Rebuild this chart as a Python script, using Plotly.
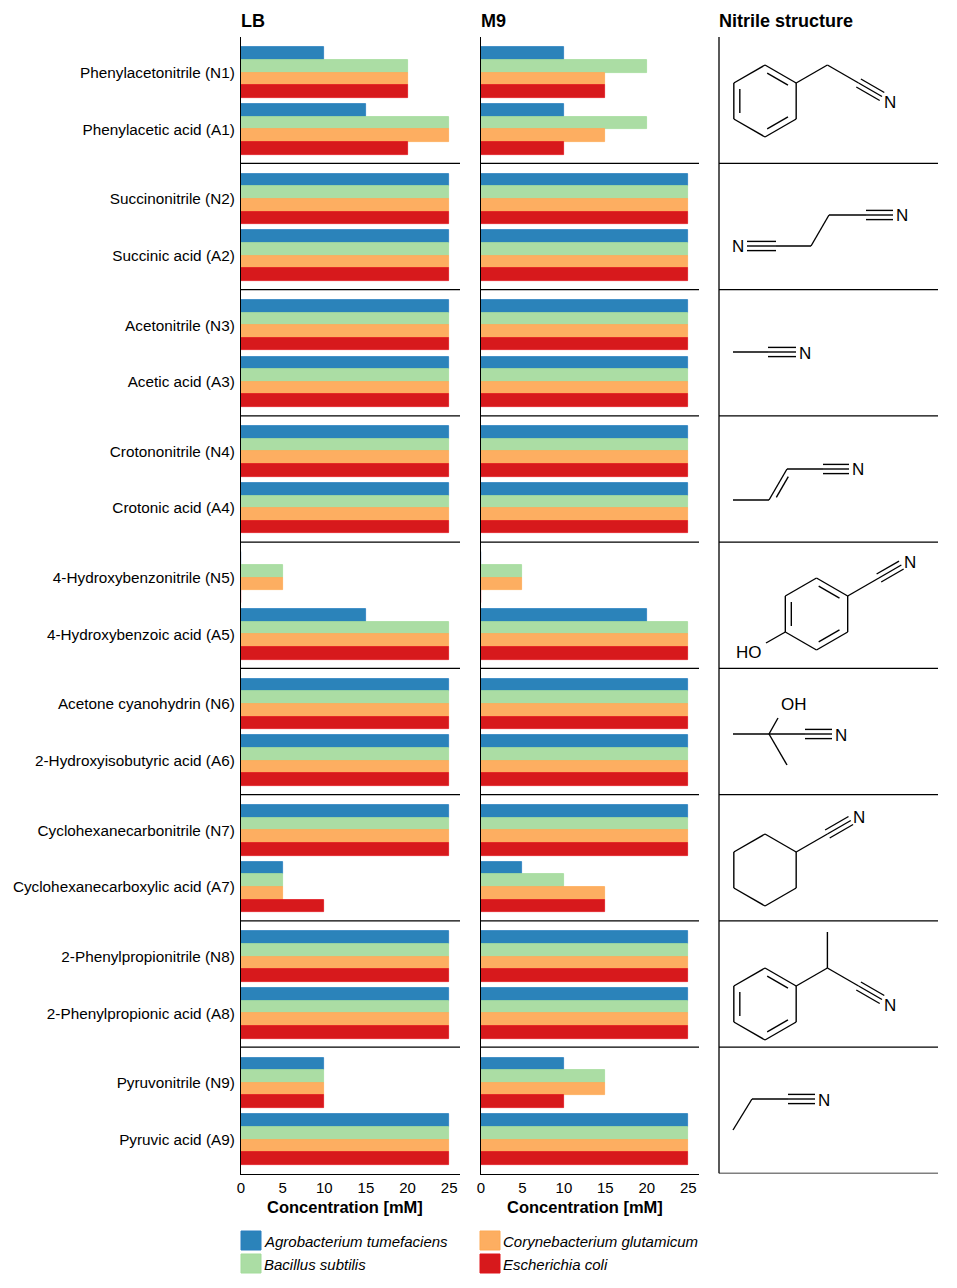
import math
import plotly.graph_objects as go

# -- datos -------------------------------------------------------------------
compuestos = [
    "Phenylacetonitrile (N1)", "Phenylacetic acid (A1)",
    "Succinonitrile (N2)", "Succinic acid (A2)",
    "Acetonitrile (N3)", "Acetic acid (A3)",
    "Crotononitrile (N4)", "Crotonic acid (A4)",
    "4-Hydroxybenzonitrile (N5)", "4-Hydroxybenzoic acid (A5)",
    "Acetone cyanohydrin (N6)", "2-Hydroxyisobutyric acid (A6)",
    "Cyclohexanecarbonitrile (N7)", "Cyclohexanecarboxylic acid (A7)",
    "2-Phenylpropionitrile (N8)", "2-Phenylpropionic acid (A8)",
    "Pyruvonitrile (N9)", "Pyruvic acid (A9)",
]
especies = ["Agrobacterium tumefaciens", "Bacillus subtilis",
            "Corynebacterium glutamicum", "Escherichia coli"]

# concentracion [mM] por especie, medio LB
lb_agro = [10, 15, 25, 25, 25, 25, 25, 25, 0, 15, 25, 25, 25, 5, 25, 25, 10, 25]
lb_bac = [20, 25, 25, 25, 25, 25, 25, 25, 5, 25, 25, 25, 25, 5, 25, 25, 10, 25]
lb_cory = [20, 25, 25, 25, 25, 25, 25, 25, 5, 25, 25, 25, 25, 5, 25, 25, 10, 25]
lb_ecoli = [20, 20, 25, 25, 25, 25, 25, 25, 0, 25, 25, 25, 25, 10, 25, 25, 10, 25]

# concentracion [mM] por especie, medio M9
m9_agro = [10, 10, 25, 25, 25, 25, 25, 25, 0, 20, 25, 25, 25, 5, 25, 25, 10, 25]
m9_bac = [20, 20, 25, 25, 25, 25, 25, 25, 5, 25, 25, 25, 25, 10, 25, 25, 15, 25]
m9_cory = [15, 15, 25, 25, 25, 25, 25, 25, 5, 25, 25, 25, 25, 15, 25, 25, 15, 25]
m9_ecoli = [15, 10, 25, 25, 25, 25, 25, 25, 0, 25, 25, 25, 25, 15, 25, 25, 10, 25]

x_ticks = [0, 5, 10, 15, 20, 25]

colores = ["#2b83ba", "#abdda4", "#fdae61", "#d7191c"]
bordes = ["#2a7fc0", "#a3dc9b", "#fda955", "#e0141a"]

# -- geometria general (pixeles de la pagina) ---------------------------------
OFF = 8  # margen del body del html
W, H = 957 - 2 * OFF, 1288 - 2 * OFF
FONT = "Arial, Liberation Sans, sans-serif"
Y_TOP, Y_BOT = 37, 1173.5


def px(x, y):
    """pixel de pagina -> paper"""
    return (x - OFF) / W, 1 - (y - OFF) / H


# posicion de cada compuesto en el eje y (seccion i: nitrilo y acido)
pos = []
for i in range(len(compuestos) // 2):
    pos += [i + 0.282, i + 0.731]

fig = go.Figure()

paneles = [
    ("x", "y", [lb_agro, lb_bac, lb_cory, lb_ecoli]),
    ("x2", "y2", [m9_agro, m9_bac, m9_cory, m9_ecoli]),
]
for xa, ya, series in paneles:
    for k, vals in enumerate(series):
        fig.add_trace(go.Bar(x=vals, y=pos, orientation="h", name=especies[k],
                             width=0.1, offset=-0.2 + 0.1 * k,
                             marker=dict(color=colores[k], line=dict(color=bordes[k], width=0.8)),
                             xaxis=xa, yaxis=ya, showlegend=False))

ejes_x = dict(range=[0, 26.3], tickvals=x_ticks, showline=True, linecolor="black", linewidth=1.3,
              ticks="", showgrid=False, zeroline=False, automargin=False,
              tickfont=dict(family=FONT, size=15, color="black"), fixedrange=True)
ejes_y = dict(range=[9, 0], showline=True, linecolor="black", linewidth=1.3, ticks="",
              showgrid=False, zeroline=False, automargin=False, fixedrange=True,
              domain=[px(0, Y_BOT)[1], px(0, Y_TOP)[1]])

fig.update_layout(
    width=W, height=H, margin=dict(l=0, r=0, t=0, b=0, pad=0),
    template="none", paper_bgcolor="white", plot_bgcolor="white",
    barmode="overlay", bargap=0,
    xaxis=dict(ejes_x, domain=[px(241, 0)[0], px(460, 0)[0]], anchor="y"),
    xaxis2=dict(ejes_x, domain=[px(481, 0)[0], px(699, 0)[0]], anchor="y2"),
    yaxis=dict(ejes_y, anchor="x", tickvals=pos, ticktext=compuestos, ticklabelstandoff=2,
               tickfont=dict(family=FONT, size=15.3, color="black")),
    yaxis2=dict(ejes_y, anchor="x2", showticklabels=False),
    font=dict(family=FONT, color="black"),
)

shapes = []
annots = []
LW = 1.3

# separadores entre secciones
for i in range(1, 9):
    for xr, yr in (("x domain", "y"), ("x2 domain", "y2")):
        shapes.append(dict(type="line", xref=xr, yref=yr, x0=0, x1=1, y0=i, y1=i,
                           line=dict(color="black", width=LW)))
# panel de estructuras
for i in range(1, 10):
    shapes.append(dict(type="line", xref="paper", yref="y", x0=px(719, 0)[0], x1=px(938, 0)[0],
                       y0=i, y1=i, line=dict(color="black", width=LW)))
shapes.append(dict(type="line", xref="paper", yref="y", x0=px(719, 0)[0], x1=px(719, 0)[0],
                   y0=0, y1=9, line=dict(color="black", width=LW)))

# titulos
for txt, x in (("LB", 239), ("M9", 479), ("Nitrile structure", 717)):
    xx, yy = px(x, 21)
    annots.append(dict(text="<b>%s</b>" % txt, x=xx, y=yy, xref="paper", yref="paper",
                       xanchor="left", yanchor="middle", showarrow=False,
                       font=dict(family=FONT, size=18, color="black")))
for xr in ("x", "x2"):
    annots.append(dict(text="<b>Concentration [mM]</b>", x=12.5, y=px(0, 1207)[1], xref=xr,
                       yref="paper", xanchor="center", yanchor="middle", showarrow=False,
                       font=dict(family=FONT, size=16.5, color="black")))

# leyenda manual 2x2
leg_pos = [(241, 1231), (241, 1254), (480, 1231), (480, 1254)]
for k, (lx, ly) in enumerate(leg_pos):
    x0, y1 = px(lx, ly)
    x1, y0 = px(lx + 20, ly + 19)
    shapes.append(dict(type="rect", xref="paper", yref="paper", x0=x0, x1=x1, y0=y0, y1=y1,
                       fillcolor=colores[k], line=dict(color=bordes[k], width=1)))
    tx, ty = px(lx + 21, ly + 10)
    annots.append(dict(text="<i>%s</i>" % especies[k], x=tx, y=ty, xref="paper", yref="paper",
                       xanchor="left", yanchor="middle", showarrow=False,
                       font=dict(family=FONT, size=15, color="black")))


# -- estructuras quimicas ----------------------------------------------------
def line(a, b, w=1.4):
    x0, y0 = px(*a)
    x1, y1 = px(*b)
    shapes.append(dict(type="line", xref="paper", yref="paper", x0=x0, y0=y0, x1=x1, y1=y1,
                       line=dict(color="black", width=w)))


def shorten(a, b, d0=0.0, d1=0.0):
    dx, dy = b[0] - a[0], b[1] - a[1]
    L = math.hypot(dx, dy)
    ux, uy = dx / L, dy / L
    return (a[0] + ux * d0, a[1] + uy * d0), (b[0] - ux * d1, b[1] - uy * d1)


def offset(a, b, o):
    dx, dy = b[0] - a[0], b[1] - a[1]
    L = math.hypot(dx, dy)
    nx, ny = -dy / L, dx / L
    return (a[0] + nx * o, a[1] + ny * o), (b[0] + nx * o, b[1] + ny * o)


def triple(a, b, d0=0.0, d1=9.0):
    a, b = shorten(a, b, d0, d1)
    for o in (-4.6, 0, 4.6):
        line(*offset(a, b, o))


def double_side(a, b, o=5.0, cut=6.0):
    line(a, b)
    p, q = offset(a, b, o)
    line(*shorten(p, q, cut, cut))


def label(txt, x, y, anchor="center"):
    xx, yy = px(x, y)
    annots.append(dict(text=txt, x=xx, y=yy, xref="paper", yref="paper", xanchor=anchor,
                       yanchor="middle", showarrow=False,
                       font=dict(family=FONT, size=17, color="black")))


def ring(cx, cy, r=36, dobles=(True,)):
    ang = [90, 30, -30, -90, -150, 150]
    v = [(cx + r * math.cos(math.radians(a)), cy - r * math.sin(math.radians(a))) for a in ang]
    for j in range(6):
        line(v[j], v[(j + 1) % 6])
    if dobles:
        # enlaces dobles: superior-derecho, inferior-derecho, izquierdo
        for j in (0, 2, 4):
            a, b = v[j], v[(j + 1) % 6]
            mx, my = (a[0] + b[0]) / 2, (a[1] + b[1]) / 2
            f = 6.0 / math.hypot(cx - mx, cy - my)
            p = (a[0] + (cx - mx) * f, a[1] + (cy - my) * f)
            q = (b[0] + (cx - mx) * f, b[1] + (cy - my) * f)
            line(*shorten(p, q, 6, 6))
    return v


# N1 fenilacetonitrilo
v = ring(765, 101)
line(v[1], (827.4, 65))
line((827.4, 65), (858.6, 83))
triple((858.6, 83), (889.8, 101))
label("N", 890, 102)

# N2 succinonitrilo
triple((776, 246), (738, 246))
label("N", 738, 246)
line((776, 246), (811, 246))
line((811, 246), (829, 215))
line((829, 215), (866, 215))
triple((866, 215), (902, 215))
label("N", 902, 215)

# N3 acetonitrilo
line((733, 352), (768, 352))
triple((768, 352), (805, 352))
label("N", 805, 353)

# N4 crotononitrilo
line((733, 500), (769, 500))
double_side((769, 500), (787, 469), o=5.0)
line((787, 469), (823, 469))
triple((823, 469), (858, 469))
label("N", 858, 470)

# N5 4-hidroxibenzonitrilo
v = ring(816.5, 614)
line(v[1], (878.9, 578))
triple((878.9, 578), (910, 560), d1=10)
line(v[4], (766, 643))
label("HO", 764, 652, anchor="right")
label("N", 910, 562)

# N6 acetona cianohidrina
line((733, 734), (769, 734))
line((769, 734), (787, 765))
line((769, 734), (778, 718))
label("OH", 794, 704)
line((769, 734), (805, 734))
triple((805, 734), (841, 734))
label("N", 841, 735)

# N7 ciclohexanocarbonitrilo
v = ring(765, 870, dobles=())
line(v[1], (827.4, 834))
triple((827.4, 834), (858.6, 816))
label("N", 859, 817)

# N8 2-fenilpropionitrilo
v = ring(765, 1004)
line(v[1], (827.4, 968))
line((827.4, 968), (827.4, 932))
line((827.4, 968), (858.6, 986))
triple((858.6, 986), (889.8, 1004))
label("N", 890, 1005)

# N9 piruvonitrilo (como en la figura original)
line((733, 1130), (752, 1099))
line((752, 1099), (788, 1099))
triple((788, 1099), (824, 1099))
label("N", 824, 1100)

fig.update_layout(shapes=shapes, annotations=annots)

fig.write_html("out.html")
